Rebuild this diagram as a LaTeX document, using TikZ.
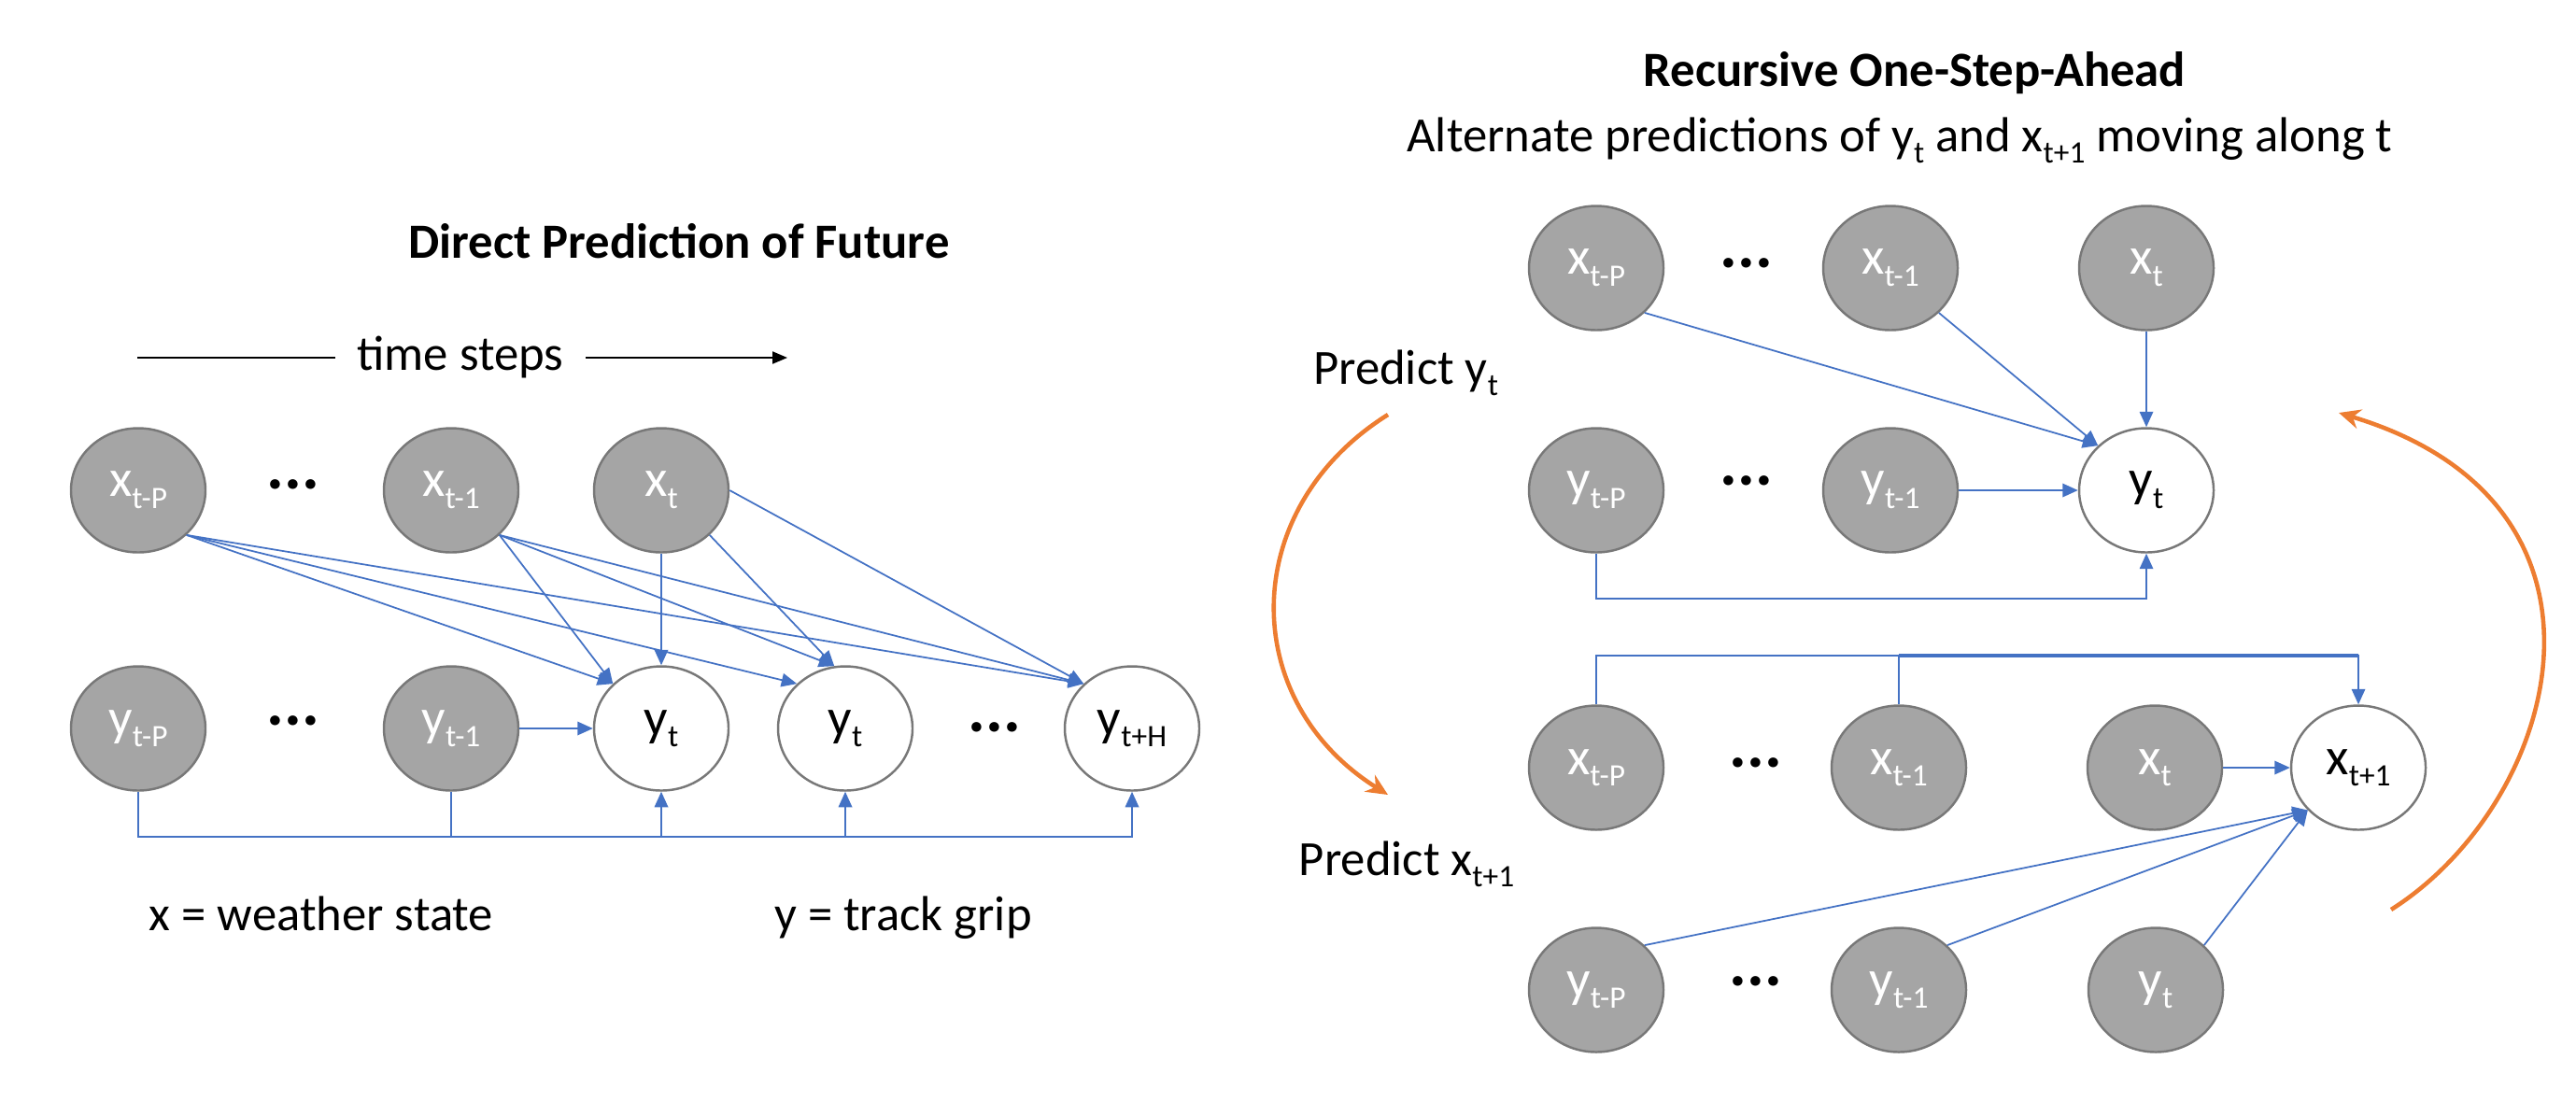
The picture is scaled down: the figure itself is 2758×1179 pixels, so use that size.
\documentclass[tikz,border=0pt]{standalone}
\usepackage{fontspec}
\setmainfont{Carlito}
\usetikzlibrary{arrows.meta,shapes.geometric}

\definecolor{linkblue}{HTML}{4472C4}
\definecolor{loopor}{HTML}{ED7D31}
\definecolor{nodegray}{HTML}{A5A5A5}
\definecolor{rimgray}{HTML}{787878}

\newcommand{\sbs}[1]{\raisebox{-3.6pt}{\fontsize{9.5}{11}\selectfont #1}}

\begin{document}
\begin{tikzpicture}[
  x=0.1mm, y=-0.1mm,
  font=\fontsize{15}{18}\selectfont,
  obs/.style={ellipse, draw=rimgray, line width=0.7pt, fill=nodegray, text=white,
              minimum width=14.4mm, minimum height=13.3mm, inner sep=0pt,
              font=\fontsize{16}{19}\selectfont},
  tgt/.style={obs, fill=white, text=black},
  ellip/.style={font=\fontsize{20}{22}\selectfont\bfseries, inner sep=0pt},
  ttl/.style={font=\fontsize{15}{18}\selectfont\bfseries, anchor=base},
  txt/.style={anchor=base},
  arr/.style={-{Triangle[length=1.65mm,width=1.45mm]}, linkblue, line width=0.5pt},
  lnk/.style={linkblue, line width=0.5pt},
  cyc/.style={-{Stealth[length=2.3mm,width=2.1mm]}, loopor, line width=1.3pt},
]
\useasboundingbox (0,0) rectangle (2758,1179);

% ---------------- Direct prediction (left) ----------------
\node[ttl] (ttlL) at (727,276) {Direct Prediction of Future};
\node[inner xsep=2.3mm] (tsteps) at (493,383) {time steps};
\coordinate (tsL) at (147,383);
\coordinate (tsR) at (843,383);
\draw[line width=0.6pt] (tsL) -- (tsteps.west);
\draw[-{Triangle[length=1.6mm,width=1.3mm]}, line width=0.6pt] (tsteps.east) -- (tsR);

\node[obs]   (xP)  at (148,525)  {x\sbs{t-P}};
\node[ellip] (dL1) at (314,519)  {...};
\node[obs]   (x1)  at (483,525)  {x\sbs{t-1}};
\node[obs]   (xt)  at (708,525)  {x\sbs{t}};
\node[obs]   (yP)  at (148,780)  {y\sbs{t-P}};
\node[ellip] (dL2) at (314,772)  {...};
\node[obs]   (y1)  at (483,780)  {y\sbs{t-1}};
\node[tgt]   (ya)  at (708,780)  {y\sbs{t}};
\node[tgt]   (yb)  at (905,780)  {y\sbs{t}};
\node[ellip] (dL3) at (1065,779) {...};
\node[tgt]   (yH)  at (1212,780) {y\sbs{t+H}};

\draw[arr] (xP.south east) -- (ya.north west);
\draw[arr] (xP.south east) -- (yb.north west);
\draw[arr] (xP.south east) -- (yH.north west);
\draw[arr] (x1.south east) -- (ya.north west);
\draw[arr] (x1.south east) -- (yb.100);
\draw[arr] (x1.south east) -- (yH.north west);
\draw[arr] (xt.south)      -- (ya.north);
\draw[arr] (xt.south east) -- (yb.100);
\draw[arr] (xt.east)       -- (yH.north west);
\draw[arr] (y1.east)       -- (ya.west);

\coordinate (busL) at (0,896);
\draw[arr] (yP.south) -- (yP.south |- busL) -| (yH.south);
\draw[lnk] (y1.south) -- (y1.south |- busL);
\draw[arr] (ya.south |- busL) -- (ya.south);
\draw[arr] (yb.south |- busL) -- (yb.south);

\node[txt] (legX) at (344,996) {x = weather state};
\node[txt] (legY) at (967,996) {y = track grip};

% ---------------- Recursive one-step-ahead (right) ----------------
\node[ttl] (ttlR) at (2050,92)  {Recursive One-Step-Ahead};
\node[txt] (subR) at (2034,162) {Alternate predictions of y\sbs{t} and x\sbs{t+1} moving along t};

% step 1: predict y_t
\node[obs]   (xP2) at (1709,287) {x\sbs{t-P}};
\node[ellip] (dR1) at (1870,282) {...};
\node[obs]   (x12) at (2024,287) {x\sbs{t-1}};
\node[obs]   (xt2) at (2298,287) {x\sbs{t}};
\node[obs]   (yP2) at (1709,525) {y\sbs{t-P}};
\node[ellip] (dR2) at (1870,515) {...};
\node[obs]   (y12) at (2024,525) {y\sbs{t-1}};
\node[tgt]   (yt2) at (2298,525) {y\sbs{t}};

\draw[arr] (xP2.south east) -- (yt2.north west);
\draw[arr] (x12.south east) -- (yt2.north west);
\draw[arr] (xt2.south)      -- (yt2.north);
\draw[arr] (y12.east)       -- (yt2.west);
\coordinate (busR1) at (0,641);
\draw[arr] (yP2.south) -- (yP2.south |- busR1) -| (yt2.south);

% step 2: predict x_{t+1}
\node[obs]   (xP3) at (1709,822)  {x\sbs{t-P}};
\node[ellip] (dR3) at (1880,817)  {...};
\node[obs]   (x13) at (2033,822)  {x\sbs{t-1}};
\node[obs]   (xt3) at (2307,822)  {x\sbs{t}};
\node[tgt]   (xn)  at (2525,822)  {x\sbs{t+1}};
\node[obs]   (yP3) at (1709,1060) {y\sbs{t-P}};
\node[ellip] (dR4) at (1880,1051) {...};
\node[obs]   (y13) at (2033,1060) {y\sbs{t-1}};
\node[obs]   (yt3) at (2308,1060) {y\sbs{t}};

\coordinate (busR2) at (0,702);
\draw[arr] (xP3.north) -- (xP3.north |- busR2) -| (xn.north);
\draw[lnk] (x13.north) -- (x13.north |- busR2);
\draw[lnk, line width=1.1pt] (x13.north |- busR2) -- (xn.north |- busR2);
\draw[arr] (xt3.east) -- (xn.west);
\draw[arr] (yP3.north east) -- (xn.220);
\draw[arr] (y13.north east) -- (xn.220);
\draw[arr] (yt3.north east) -- (xn.220);

% alternation loop
\node[txt] (pY) at (1505,411) {Predict y\sbs{t}};
\node[txt] (pX) at (1506,937) {Predict x\sbs{t+1}};
\coordinate (cL1) at (1486,444);
\coordinate (cL2) at (1486,851);
\coordinate (cR1) at (2560,974);
\coordinate (cR2) at (2504,442);
\draw[cyc] (cL1) .. controls (1325,545) and (1325,750) .. (cL2);
\draw[cyc] (cR1) .. controls (2740,860) and (2830,540) .. (cR2);

\end{tikzpicture}
\end{document}
